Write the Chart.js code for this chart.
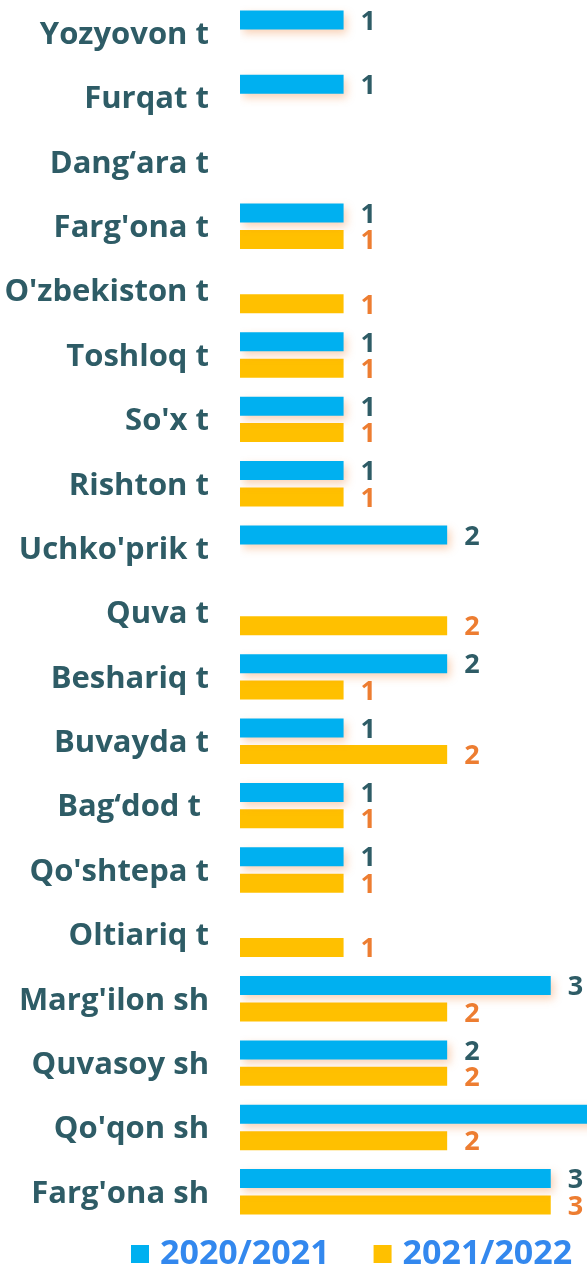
<!DOCTYPE html>
<html>
<head>
<meta charset="utf-8">
<script src="https://cdn.jsdelivr.net/npm/chart.js@4"></script>
<style>
  body { margin: 0; background: #fff; }
  #wrap { width: 587px; height: 1270px; position: relative; }
</style>
</head>
<body>
<div id="wrap"><canvas id="hbar"></canvas></div>
<script>
const categories = ["Yozyovon t", "Furqat t", "Dang\u2018ara t", "Farg'ona t", "O'zbekiston t", "Toshloq t",
  "So'x t", "Rishton t", "Uchko'prik t", "Quva t", "Beshariq t", "Buvayda t", "Bag\u2018dod t ",
  "Qo'shtepa t", "Oltiariq t", "Marg'ilon sh", "Quvasoy sh", "Qo'qon sh", "Farg'ona sh"];
const seriesNames = ["2020/2021", "2021/2022"];
const values2020 = [1, 1, null, 1, null, 1, 1, 1, 2, null, 2, 1, 1, 1, null, 3, 2, 4, 3];
const values2021 = [null, null, null, 1, 1, 1, 1, 1, null, 2, 1, 2, 1, 1, 1, 2, 2, 2, 3];

const FONT = "'Open Sans', 'Noto Sans', sans-serif";
const labelColors = ["#2E5C66", "#ED7D31"];

// soft shadow under the blue bars
const barShadow = {
  id: "barShadow",
  beforeDatasetDraw(chart, args) {
    const ctx = chart.ctx;
    ctx.save();
    if (args.index === 0) {
      ctx.shadowColor = "rgba(237, 125, 49, 0.35)";
      ctx.shadowBlur = 8;
      ctx.shadowOffsetX = 3;
      ctx.shadowOffsetY = 4;
    }
  },
  afterDatasetDraw(chart) {
    chart.ctx.restore();
  }
};

// value labels at the end of each bar
const valueLabels = {
  id: "valueLabels",
  afterDatasetsDraw(chart) {
    const ctx = chart.ctx;
    ctx.save();
    ctx.font = "bold 27px " + FONT;
    ctx.textAlign = "left";
    ctx.textBaseline = "middle";
    chart.data.datasets.forEach((ds, i) => {
      const meta = chart.getDatasetMeta(i);
      meta.data.forEach((bar, j) => {
        const v = ds.data[j];
        if (v === null || v === undefined) return;
        ctx.fillStyle = labelColors[i];
        ctx.fillText(String(v), bar.x + 17, bar.y + 2);
      });
    });
    ctx.restore();
  }
};

// legend drawn under the plot
const bottomLegend = {
  id: "bottomLegend",
  afterDraw(chart) {
    const ctx = chart.ctx;
    ctx.save();
    ctx.font = "bold 34px " + FONT;
    ctx.textBaseline = "middle";
    ctx.textAlign = "left";
    let x = 131;
    const y = 1254;
    chart.data.datasets.forEach((ds, i) => {
      ctx.fillStyle = ds.backgroundColor;
      ctx.fillRect(x, y - 9, 18, 18);
      x += 29;
      ctx.fillStyle = "#3388EE";
      ctx.fillText(ds.label, x, y);
      x += ctx.measureText(ds.label).width + 44;
    });
    ctx.restore();
  }
};

new Chart(document.getElementById("hbar"), {
  type: "bar",
  data: {
    labels: categories,
    datasets: [
      {
        label: seriesNames[0],
        data: values2020,
        backgroundColor: "#00B0F0",
        barPercentage: 0.72,
        categoryPercentage: 0.82,
      },
      {
        label: seriesNames[1],
        data: values2021,
        backgroundColor: "#FFC000",
        barPercentage: 0.72,
        categoryPercentage: 0.82,
      },
    ],
  },
  options: {
    indexAxis: "y",
    responsive: true,
    maintainAspectRatio: false,
    animation: false,
    layout: { padding: { top: 1, bottom: 46, left: 0, right: 0 } },
    plugins: {
      legend: { display: false },
      tooltip: { enabled: false },
    },
    scales: {
      x: { display: false, min: 0, max: 3.35 },
      y: {
        grid: { display: false },
        border: { display: false },
        ticks: {
          padding: 23,
          labelOffset: 2,
          color: "#2E5C66",
          font: { family: FONT, size: 31, weight: "bold" },
        },
        afterFit(scale) {
          scale.width = 240;
          scale.paddingTop = 0;
          scale.paddingBottom = 0;
        },
      },
    },
  },
  plugins: [barShadow, valueLabels, bottomLegend],
});
</script>
</body>
</html>
